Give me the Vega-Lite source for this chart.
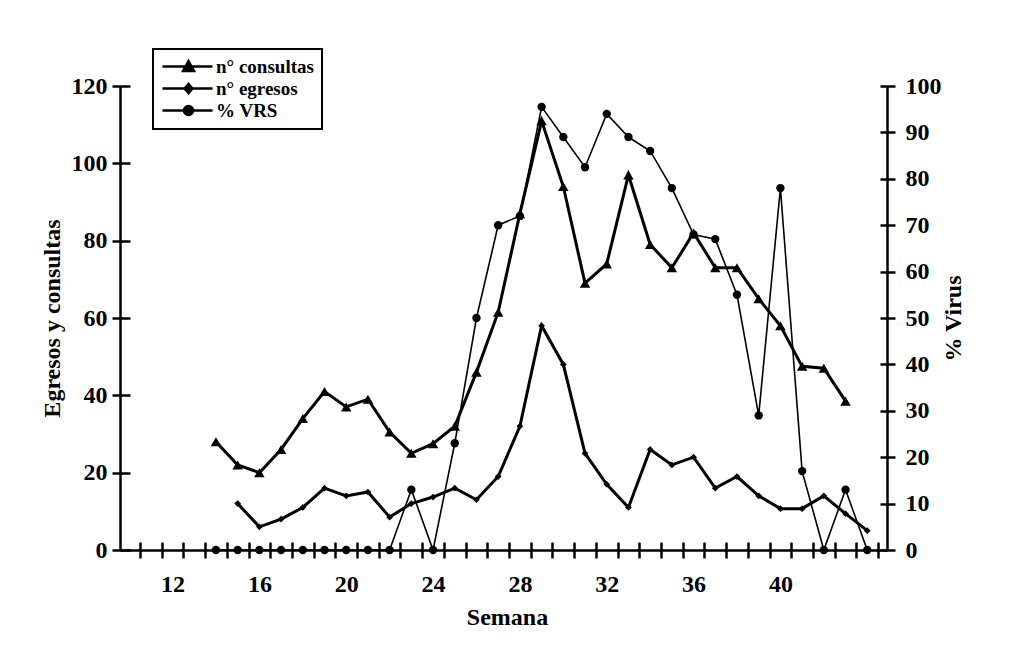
{
  "$schema": "https://vega.github.io/schema/vega-lite/v6.json",
  "width": 767,
  "height": 464,
  "autosize": {"type": "none"},
  "padding": {"left": 120, "top": 86, "right": 129, "bottom": 119},
  "background": "white",
  "config": {
    "view": {"stroke": null},
    "font": "Liberation Serif",
    "axis": {"grid": false, "domain": false, "ticks": true, "gridColor": "black", "gridWidth": 2.5, "tickColor": "black", "tickWidth": 2.5, "labelColor": "black", "titleColor": "black", "labelFont": "Liberation Serif", "titleFont": "Liberation Serif", "labelFontSize": 24, "titleFontSize": 24, "labelFontWeight": "bold", "titleFontWeight": "bold", "labelFlush": false}
  },
  "data": {"values": [
    {"semana": 14, "serie": "n° consultas", "valor": 28},
    {"semana": 15, "serie": "n° consultas", "valor": 22},
    {"semana": 16, "serie": "n° consultas", "valor": 20},
    {"semana": 17, "serie": "n° consultas", "valor": 26},
    {"semana": 18, "serie": "n° consultas", "valor": 34},
    {"semana": 19, "serie": "n° consultas", "valor": 41},
    {"semana": 20, "serie": "n° consultas", "valor": 37},
    {"semana": 21, "serie": "n° consultas", "valor": 39},
    {"semana": 22, "serie": "n° consultas", "valor": 30.5},
    {"semana": 23, "serie": "n° consultas", "valor": 25},
    {"semana": 24, "serie": "n° consultas", "valor": 27.5},
    {"semana": 25, "serie": "n° consultas", "valor": 32},
    {"semana": 26, "serie": "n° consultas", "valor": 46},
    {"semana": 27, "serie": "n° consultas", "valor": 61.5},
    {"semana": 28, "serie": "n° consultas", "valor": 87},
    {"semana": 29, "serie": "n° consultas", "valor": 111},
    {"semana": 30, "serie": "n° consultas", "valor": 94},
    {"semana": 31, "serie": "n° consultas", "valor": 69},
    {"semana": 32, "serie": "n° consultas", "valor": 74},
    {"semana": 33, "serie": "n° consultas", "valor": 97},
    {"semana": 34, "serie": "n° consultas", "valor": 79},
    {"semana": 35, "serie": "n° consultas", "valor": 73},
    {"semana": 36, "serie": "n° consultas", "valor": 82},
    {"semana": 37, "serie": "n° consultas", "valor": 73},
    {"semana": 38, "serie": "n° consultas", "valor": 73},
    {"semana": 39, "serie": "n° consultas", "valor": 65},
    {"semana": 40, "serie": "n° consultas", "valor": 58},
    {"semana": 41, "serie": "n° consultas", "valor": 47.5},
    {"semana": 42, "serie": "n° consultas", "valor": 47},
    {"semana": 43, "serie": "n° consultas", "valor": 38.5},
    {"semana": 15, "serie": "n° egresos", "valor": 12},
    {"semana": 16, "serie": "n° egresos", "valor": 6},
    {"semana": 17, "serie": "n° egresos", "valor": 8},
    {"semana": 18, "serie": "n° egresos", "valor": 11},
    {"semana": 19, "serie": "n° egresos", "valor": 16},
    {"semana": 20, "serie": "n° egresos", "valor": 14},
    {"semana": 21, "serie": "n° egresos", "valor": 15},
    {"semana": 22, "serie": "n° egresos", "valor": 8.5},
    {"semana": 23, "serie": "n° egresos", "valor": 12},
    {"semana": 24, "serie": "n° egresos", "valor": 13.7},
    {"semana": 25, "serie": "n° egresos", "valor": 16},
    {"semana": 26, "serie": "n° egresos", "valor": 13},
    {"semana": 27, "serie": "n° egresos", "valor": 19},
    {"semana": 28, "serie": "n° egresos", "valor": 32},
    {"semana": 29, "serie": "n° egresos", "valor": 58},
    {"semana": 30, "serie": "n° egresos", "valor": 48},
    {"semana": 31, "serie": "n° egresos", "valor": 25},
    {"semana": 32, "serie": "n° egresos", "valor": 17},
    {"semana": 33, "serie": "n° egresos", "valor": 11},
    {"semana": 34, "serie": "n° egresos", "valor": 26},
    {"semana": 35, "serie": "n° egresos", "valor": 22},
    {"semana": 36, "serie": "n° egresos", "valor": 24},
    {"semana": 37, "serie": "n° egresos", "valor": 16},
    {"semana": 38, "serie": "n° egresos", "valor": 19},
    {"semana": 39, "serie": "n° egresos", "valor": 14},
    {"semana": 40, "serie": "n° egresos", "valor": 10.7},
    {"semana": 41, "serie": "n° egresos", "valor": 10.7},
    {"semana": 42, "serie": "n° egresos", "valor": 14},
    {"semana": 43, "serie": "n° egresos", "valor": 9.4},
    {"semana": 44, "serie": "n° egresos", "valor": 5},
    {"semana": 14, "serie": "% VRS", "valor": 0},
    {"semana": 15, "serie": "% VRS", "valor": 0},
    {"semana": 16, "serie": "% VRS", "valor": 0},
    {"semana": 17, "serie": "% VRS", "valor": 0},
    {"semana": 18, "serie": "% VRS", "valor": 0},
    {"semana": 19, "serie": "% VRS", "valor": 0},
    {"semana": 20, "serie": "% VRS", "valor": 0},
    {"semana": 21, "serie": "% VRS", "valor": 0},
    {"semana": 22, "serie": "% VRS", "valor": 0},
    {"semana": 23, "serie": "% VRS", "valor": 13},
    {"semana": 24, "serie": "% VRS", "valor": 0},
    {"semana": 25, "serie": "% VRS", "valor": 23},
    {"semana": 26, "serie": "% VRS", "valor": 50},
    {"semana": 27, "serie": "% VRS", "valor": 70},
    {"semana": 28, "serie": "% VRS", "valor": 72},
    {"semana": 29, "serie": "% VRS", "valor": 95.5},
    {"semana": 30, "serie": "% VRS", "valor": 89},
    {"semana": 31, "serie": "% VRS", "valor": 82.5},
    {"semana": 32, "serie": "% VRS", "valor": 94},
    {"semana": 33, "serie": "% VRS", "valor": 89},
    {"semana": 34, "serie": "% VRS", "valor": 86},
    {"semana": 35, "serie": "% VRS", "valor": 78},
    {"semana": 36, "serie": "% VRS", "valor": 68},
    {"semana": 37, "serie": "% VRS", "valor": 67},
    {"semana": 38, "serie": "% VRS", "valor": 55},
    {"semana": 39, "serie": "% VRS", "valor": 29},
    {"semana": 40, "serie": "% VRS", "valor": 78},
    {"semana": 41, "serie": "% VRS", "valor": 17},
    {"semana": 42, "serie": "% VRS", "valor": 0},
    {"semana": 43, "serie": "% VRS", "valor": 13},
    {"semana": 44, "serie": "% VRS", "valor": 0}
  ]},
  "encoding": {
    "x": {
      "field": "semana", "type": "quantitative",
      "scale": {"domain": [9.58, 44.91], "nice": false, "zero": false},
      "axis": {
        "values": [9.58, 10.5, 11.5, 12.5, 13.5, 14.5, 15.5, 16.5, 17.5, 18.5, 19.5, 20.5, 21.5, 22.5, 23.5, 24.5, 25.5, 26.5, 27.5, 28.5, 29.5, 30.5, 31.5, 32.5, 33.5, 34.5, 35.5, 36.5, 37.5, 38.5, 39.5, 40.5, 41.5, 42.5, 43.5, 44.5, 44.91, 12, 16, 20, 24, 28, 32, 36, 40],
        "labelExpr": "datum.value % 4 == 0 ? datum.label : ''",
        "labelOverlap": false,
        "offset": -8,
        "tickSize": 16,
        "tickOpacity": {"condition": {"test": "datum.value % 1 == 0.5", "value": 1}, "value": 0},
        "grid": true,
        "gridOpacity": {"condition": {"test": "datum.value < 10 || datum.value > 44.8", "value": 1}, "value": 0},
        "labelPadding": 14,
        "title": "Semana",
        "titleX": 387,
        "titleY": 75,
        "titleBaseline": "middle",
        "titleAlign": "center"
      }
    }
  },
  "layer": [
    {
      "transform": [{"filter": "datum.serie != '% VRS'"}],
      "encoding": {
        "y": {
          "field": "valor", "type": "quantitative",
          "scale": {"domain": [0, 120], "nice": false, "zero": true},
          "axis": {
            "orient": "left",
            "values": [0, 20, 40, 60, 80, 100, 120],
            "offset": -10,
            "tickSize": 18,
            "grid": true,
            "gridOpacity": {"condition": {"test": "datum.value == 0", "value": 1}, "value": 0},
            "labelPadding": 5,
            "title": "Egresos y consultas",
            "titleX": -78,
            "titleY": 232,
            "titleAngle": -90,
            "titleBaseline": "middle",
            "titleAlign": "center"
          }
        }
      },
      "layer": [
        {
          "mark": {"type": "line", "strokeWidth": 3},
          "encoding": {
            "color": {
              "field": "serie", "type": "nominal",
              "scale": {"domain": ["n° consultas", "n° egresos", "% VRS"], "range": ["black", "black", "black"]},
              "legend": {
                "orient": "none", "legendX": 33, "legendY": -37,
                "title": null,
                "strokeColor": "black", "fillColor": "white", "padding": 8,
                "labelFont": "Liberation Serif", "labelFontSize": 19, "labelFontWeight": "bold", "labelColor": "black",
                "labelOffset": 36, "rowPadding": 2, "symbolSize": 100, "symbolStrokeWidth": 2.5,
                "encode": {
                  "symbols": {"update": {
                    "shape": {"signal": "datum.value == 'n° consultas' ? 'M-1.6,0L8.4,0M2.5,0.9L3.6,-1.1L4.7,0.9Z' : datum.value == 'n° egresos' ? 'M-1.6,0L8.4,0M3.6,-0.9L4.4,0L3.6,0.9L2.8,0Z' : 'M-1.6,0L8.4,0M2.7,0A0.9,0.9,0,1,0,4.5,0A0.9,0.9,0,1,0,2.7,0Z'"},
                    "fill": {"value": "black"}, "stroke": {"value": "black"}, "strokeWidth": {"value": 2.5}, "size": {"value": 100}, "opacity": {"value": 1}
                  }},
                  "legend": {"update": {"strokeWidth": {"value": 2}}}
                }
              }
            }
          }
        },
        {
          "transform": [{"filter": "datum.serie == 'n° consultas'"}],
          "mark": {"type": "point", "shape": "triangle-up", "size": 110, "filled": true, "opacity": 1, "color": "black"}
        },
        {
          "transform": [{"filter": "datum.serie == 'n° egresos'"}],
          "mark": {"type": "point", "shape": "diamond", "size": 45, "filled": true, "opacity": 1, "color": "black"}
        }
      ]
    },
    {
      "transform": [{"filter": "datum.serie == '% VRS'"}],
      "encoding": {
        "y": {
          "field": "valor", "type": "quantitative",
          "scale": {"domain": [0, 100], "nice": false, "zero": true},
          "axis": {
            "orient": "right",
            "values": [0, 10, 20, 30, 40, 50, 60, 70, 80, 90, 100],
            "offset": -7,
            "tickSize": 15,
            "labelPadding": 10,
            "title": "% Virus",
            "titleX": 73,
            "titleY": 232,
            "titleAngle": -90,
            "titleBaseline": "middle",
            "titleAlign": "center"
          }
        }
      },
      "layer": [
        {
          "mark": {"type": "line", "strokeWidth": 1.6},
          "encoding": {
            "color": {
              "field": "serie", "type": "nominal",
              "scale": {"domain": ["n° consultas", "n° egresos", "% VRS"], "range": ["black", "black", "black"]}
            }
          }
        },
        {
          "mark": {"type": "point", "shape": "circle", "size": 70, "filled": true, "opacity": 1, "color": "black"}
        }
      ]
    }
  ],
  "resolve": {"scale": {"y": "independent"}}
}
